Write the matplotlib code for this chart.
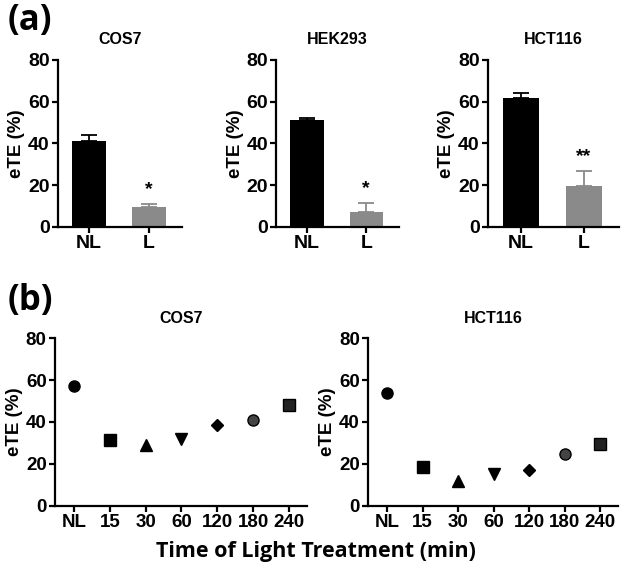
import matplotlib.pyplot as plt
import numpy as np

plt.rcParams.update({
    "font.family": ["Liberation Sans", "DejaVu Sans"],
    "font.weight": "bold",
    "axes.titleweight": "bold", "axes.labelweight": "bold",
    "axes.linewidth": 1.6,
    "xtick.major.width": 1.6, "ytick.major.width": 1.6,
    "xtick.major.size": 4, "ytick.major.size": 4,
    "axes.spines.top": False, "axes.spines.right": False,
})

# panel (a): bar data
cells_a = ["COS7", "HEK293", "HCT116"]
groups = ["NL", "L"]
means_a = [[41, 9.5], [51, 7], [61.5, 19.5]]
errs_a = [[3, 1.2], [1, 4.2], [2.5, 7]]
stars = ["*", "*", "**"]
bar_colors = ["black", "#8a8a8a"]

# panel (b): time course
cells_b = ["COS7", "HCT116"]
times = ["NL", "15", "30", "60", "120", "180", "240"]
ete_b = [[57, 31.2, 29, 32, 38.7, 41, 47.9],
         [53.8, 18.4, 12, 15.3, 17.2, 24.8, 29.6]]
markers = ["o", "s", "^", "v", "D", "o", "s"]
msizes = [8, 8, 8, 8, 6, 8, 9]
fills = ["black", "black", "black", "black", "black", "#444444", "#222222"]

fig = plt.figure(figsize=(6.25, 5.8), dpi=100)

pos_a = [(0.093, 0.198), (0.442, 0.196), (0.781, 0.209)]
for i, (l, w) in enumerate(pos_a):
    ax = fig.add_axes([l, 0.609, w, 0.288])
    x = np.arange(2)
    ax.bar(x, means_a[i], width=0.56, color=bar_colors)
    for j in range(2):
        ax.errorbar(x[j], means_a[i][j], yerr=[[0], [errs_a[i][j]]], capsize=6,
                    elinewidth=1.3, capthick=1.3, color=bar_colors[j], fmt="none")
    top = means_a[i][1] + errs_a[i][1]
    ax.text(1, top + 3, stars[i], ha="center", va="bottom", fontsize=14)
    ax.set_xlim(-0.52, 1.55)
    ax.set_ylim(0, 80)
    ax.set_yticks([0, 20, 40, 60, 80])
    ax.set_xticks(x, groups)
    ax.tick_params(labelsize=14, pad=2)
    ax.set_ylabel("eTE (%)", fontsize=13.5, labelpad=2)
    ax.set_title(cells_a[i], fontsize=11.5, pad=11)

pos_b = [(0.088, 0.403), (0.589, 0.400)]
for i, (l, w) in enumerate(pos_b):
    ax = fig.add_axes([l, 0.128, w, 0.289])
    x = np.arange(len(times))
    for j in range(len(times)):
        ax.plot(x[j], ete_b[i][j], marker=markers[j], ms=msizes[j], color=fills[j],
                mec="black", linestyle="none")
    ax.set_xlim(-0.53, 6.5)
    ax.set_ylim(0, 80)
    ax.set_yticks([0, 20, 40, 60, 80])
    ax.set_xticks(x, times)
    ax.tick_params(labelsize=13.5, pad=2)
    ax.set_ylabel("eTE (%)", fontsize=13.5, labelpad=2)
    ax.set_title(cells_b[i], fontsize=11.5, pad=11)

fig.text(0.012, 0.995, "(a)", fontsize=25, fontweight="bold", va="top",
         family=["Open Sans", "DejaVu Sans"])
fig.text(0.012, 0.512, "(b)", fontsize=25, fontweight="bold", va="top",
         family=["Open Sans", "DejaVu Sans"])
fig.text(0.505, 0.05, "Time of Light Treatment (min)", fontsize=15.5, fontweight="bold",
         ha="center", va="center", family=["Open Sans", "DejaVu Sans"])

fig.savefig("out.png", dpi=100)
